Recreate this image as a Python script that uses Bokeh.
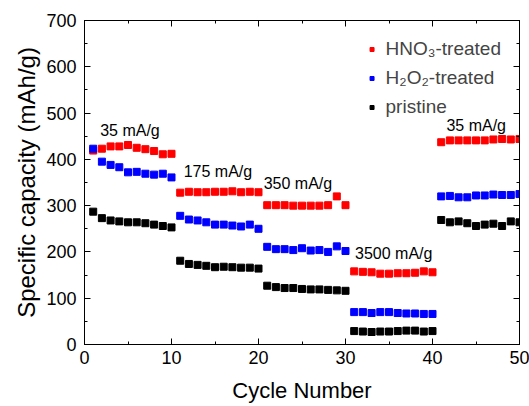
from bokeh.plotting import figure
from bokeh.models import Range1d, LinearAxis, Legend, LegendItem, FixedTicker, CustomJSTickFormatter
from bokeh.core.properties import value
from bokeh.embed import file_html
from bokeh.resources import INLINE

cycles = list(range(1, 51))
hno3 = [419, 423, 428, 428, 431, 425, 422, 418, 411, 412,
        328, 330, 329, 329, 330, 330, 331, 329, 330, 329,
        301, 301, 301, 300, 300, 300, 300, 301, 320, 301,
        158, 157, 156, 153, 153, 154, 154, 155, 158, 156,
        437, 441, 441, 441, 441, 441, 443, 444, 443, 444]
h2o2 = [423, 395, 388, 383, 372, 373, 369, 367, 369, 361,
        278, 270, 268, 264, 259, 259, 257, 255, 259, 250,
        211, 206, 206, 204, 208, 203, 204, 200, 212, 202,
        70, 70, 68, 70, 70, 68, 67, 67, 66, 66,
        320, 321, 318, 318, 322, 322, 324, 323, 323, 325]
pristine = [287, 273, 268, 266, 264, 264, 262, 259, 256, 253,
            181, 174, 172, 170, 167, 168, 167, 166, 166, 164,
            127, 124, 122, 122, 120, 119, 119, 118, 117, 116,
            29, 28, 27, 28, 28, 29, 30, 30, 28, 29,
            269, 264, 266, 262, 256, 259, 261, 256, 266, 264]

rate_labels = ["35 mA/g", "175 mA/g", "350 mA/g", "3500 mA/g", "35 mA/g"]
rate_x = [1.8, 11.4, 20.6, 31.1, 41.6]
rate_y = [462, 374, 348, 197, 473]

x_ticks = [0, 10, 20, 30, 40, 50]
y_ticks = [0, 100, 200, 300, 400, 500, 600, 700]
x_minor = [0, 5, 10, 15, 20, 25, 30, 35, 40, 45, 50]
y_minor = [0, 50, 100, 150, 200, 250, 300, 350, 400, 450, 500, 550, 600, 650, 700]

FONT = "Liberation Sans"

p = figure(width=529, height=406, output_backend="svg", toolbar_location=None,
           x_range=Range1d(0, 50), y_range=Range1d(0, 700),
           min_border_left=84, min_border_right=10, min_border_top=20, min_border_bottom=62)
p.background_fill_color = "white"
p.border_fill_color = "white"
p.outline_line_color = "black"
p.outline_line_width = 1
p.xgrid.visible = False
p.ygrid.visible = False

def style_axis(ax, ticks, minor):
    ax.ticker = FixedTicker(ticks=ticks, minor_ticks=minor)
    ax.major_tick_in = 6
    ax.major_tick_out = 0
    ax.minor_tick_in = 3
    ax.minor_tick_out = 0
    ax.axis_line_color = "black"
    ax.major_tick_line_color = "black"
    ax.minor_tick_line_color = "black"
    ax.major_label_text_font = FONT
    ax.major_label_text_font_size = "18px"
    ax.major_label_text_color = "black"
    ax.axis_label_text_font = FONT
    ax.axis_label_text_font_style = "normal"
    ax.axis_label_text_color = "black"

style_axis(p.xaxis[0], x_ticks, x_minor)
style_axis(p.yaxis[0], y_ticks, y_minor)
p.xaxis[0].axis_label = "Cycle Number"
p.xaxis[0].axis_label_text_font_size = "22px"
p.xaxis[0].major_label_standoff = 6
p.xaxis[0].axis_label_standoff = 11
p.yaxis[0].axis_label = "Specific capacity (mAh/g)"
p.yaxis[0].axis_label_text_font_size = "24px"
p.yaxis[0].major_label_standoff = 8
p.yaxis[0].axis_label_standoff = 3

blank = CustomJSTickFormatter(code="return ''")
top = LinearAxis(formatter=blank, major_label_standoff=0)
style_axis(top, x_ticks, x_minor)
right = LinearAxis(formatter=blank, major_label_standoff=0)
style_axis(right, y_ticks, y_minor)
p.add_layout(top, "above")
p.add_layout(right, "right")

r1 = p.scatter(cycles, hno3, marker="square", size=7, color="#ff0000")
r2 = p.scatter(cycles, h2o2, marker="square", size=7, color="#0000ff")
r3 = p.scatter(cycles, pristine, marker="square", size=7, color="black")

p.text(rate_x, rate_y, text=rate_labels, text_font=value(FONT), text_font_size="16px",
       text_baseline="middle", text_align="left", text_color="black")

legend = Legend(items=[
    LegendItem(label="HNO\u2083-treated", renderers=[r1]),
    LegendItem(label="H\u2082O\u2082-treated", renderers=[r2]),
    LegendItem(label="pristine", renderers=[r3]),
], location="top_right")
legend.border_line_color = None
legend.background_fill_alpha = 0
legend.label_text_font = FONT
legend.label_text_font_size = "19px"
legend.glyph_width = 10
legend.label_standoff = 9
legend.spacing = 7
legend.padding = 0
legend.margin = 18
p.add_layout(legend)

open("out.html", "w").write(file_html(p, INLINE))
